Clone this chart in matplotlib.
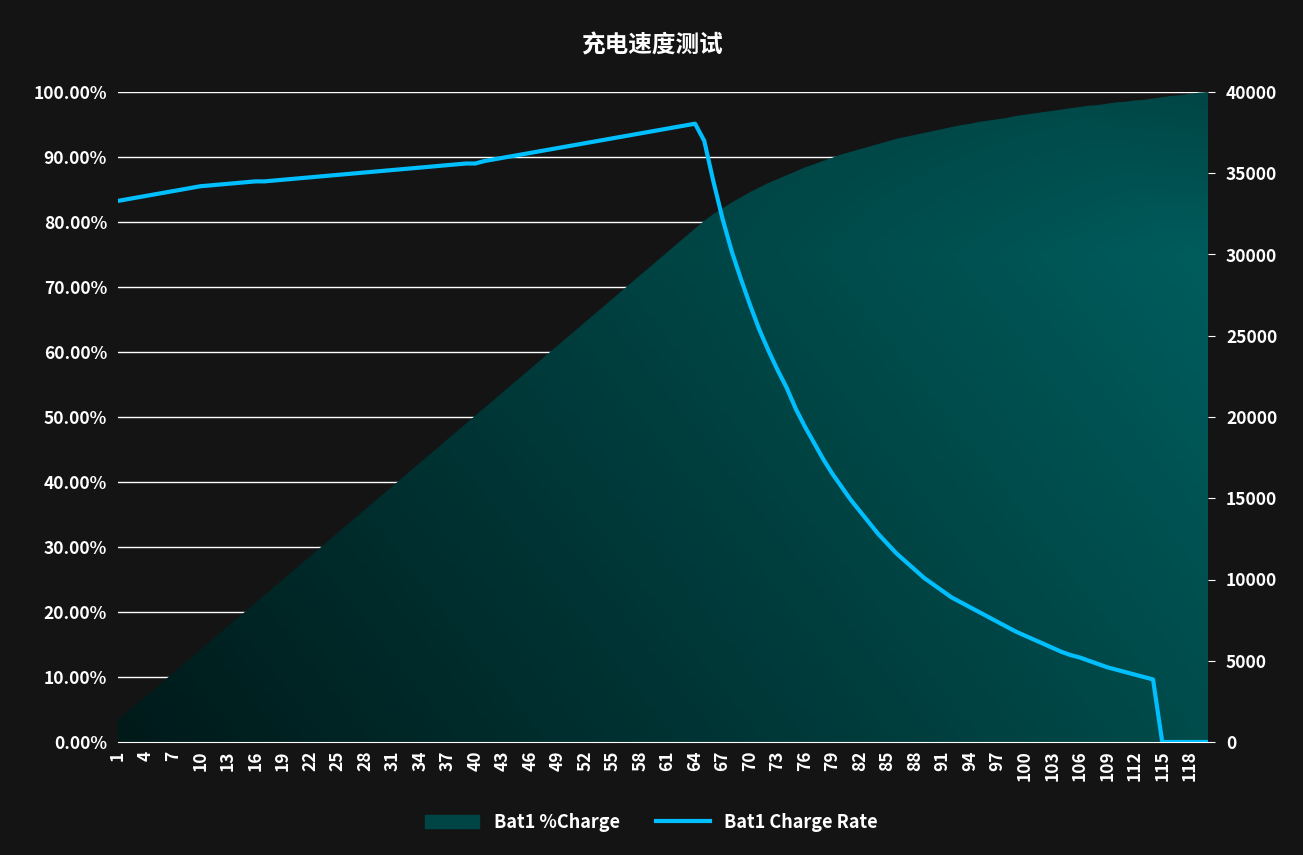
import numpy as np
import matplotlib.pyplot as plt
from matplotlib.patches import Patch
from matplotlib.lines import Line2D
from matplotlib.ticker import FuncFormatter

plt.rcParams['font.family'] = ['Noto Sans CJK SC', 'DejaVu Sans']

minutes = list(range(1, 121))

charge_pct = [
    3.4, 4.6, 5.8, 7.0, 8.2, 9.4, 10.6, 11.8, 13.0, 14.2,
    15.4, 16.6, 17.8, 19.0, 20.2, 21.4, 22.6, 23.8, 25.0, 26.2,
    27.4, 28.6, 29.8, 31.0, 32.2, 33.4, 34.6, 35.8, 37.0, 38.2,
    39.4, 40.6, 41.8, 43.0, 44.2, 45.4, 46.6, 47.8, 49.0, 50.2,
    51.4, 52.6, 53.8, 55.0, 56.2, 57.4, 58.6, 59.8, 61.0, 62.2,
    63.4, 64.6, 65.8, 67.0, 68.2, 69.4, 70.6, 71.8, 73.0, 74.2,
    75.4, 76.6, 77.8, 79.0, 80.2, 81.2, 82.1, 83.0, 83.8, 84.6,
    85.3, 86.0, 86.6, 87.2, 87.8, 88.4, 88.9, 89.4, 89.9, 90.4,
    90.8, 91.2, 91.6, 92.0, 92.4, 92.8, 93.1, 93.4, 93.7, 94.0,
    94.3, 94.6, 94.9, 95.1, 95.4, 95.6, 95.8, 96.0, 96.3, 96.5,
    96.7, 96.9, 97.1, 97.3, 97.5, 97.7, 97.9, 98.0, 98.2, 98.4,
    98.5, 98.7, 98.8, 99.0, 99.2, 99.4, 99.5, 99.7, 99.9, 100.0,
]

charge_rate = [
    33300, 33400, 33500, 33600, 33700, 33800, 33900, 34000, 34100, 34200,
    34250, 34300, 34350, 34400, 34450, 34500, 34500, 34550, 34600, 34650,
    34700, 34750, 34800, 34850, 34900, 34950, 35000, 35050, 35100, 35150,
    35200, 35250, 35300, 35350, 35400, 35450, 35500, 35550, 35600, 35600,
    35750, 35850, 35950, 36050, 36150, 36250, 36350, 36450, 36550, 36650,
    36750, 36850, 36950, 37050, 37150, 37250, 37350, 37450, 37550, 37650,
    37750, 37850, 37950, 38050, 37000, 34500, 32200, 30200, 28500, 26900,
    25400, 24100, 22900, 21800, 20500, 19400, 18400, 17400, 16500, 15700,
    14900, 14200, 13500, 12800, 12200, 11600, 11100, 10600, 10100, 9700,
    9300, 8900, 8600, 8300, 8000, 7700, 7400, 7100, 6800, 6550,
    6300, 6050, 5800, 5550, 5350, 5200, 5000, 4800, 4600, 4450,
    4300, 4150, 4000, 3850, 0, 0, 0, 0, 0, 0,
]

bg = '#141414'
fig = plt.figure(figsize=(13.03, 8.55), dpi=100, facecolor=bg)
ax = fig.add_axes([118 / 1303, 113 / 855, 1090 / 1303, 650 / 855])
ax.set_facecolor(bg)
ax2 = ax.twinx()

# gradient area
poly = ax.fill_between(minutes, charge_pct, 0, color='none', zorder=2)
nx, ny = 300, 200
gx = np.linspace(0, 1, nx)[None, :]
gy = np.linspace(0, 1, ny)[:, None]
t = np.clip(0.75 * gx + 0.35 * gy, 0, 1)
dark = np.array([0.0, 0.10, 0.10])
light = np.array([0.0, 0.36, 0.36])
img = dark + (light - dark) * t[..., None]
top_shade = np.clip((gy - 0.75) / 0.25, 0, 1) * gx * 0.25
img = img * (1 - top_shade[..., None])
im = ax.imshow(img, origin='lower', extent=[1, 120, 0, 100], aspect='auto', zorder=2)
im.set_clip_path(poly.get_paths()[0], transform=ax.transData)

ax2.plot(minutes, charge_rate, color='#00bfff', lw=3, zorder=5)

ax.set_xlim(1, 120)
ax.set_ylim(0, 100)
ax2.set_ylim(0, 40000)
ax.set_yticks(range(0, 101, 10))
ax.yaxis.set_major_formatter(FuncFormatter(lambda v, p: f'{v:.2f}%'))
ax2.set_yticks(range(0, 40001, 5000))
ax.set_xticks(minutes[::3])
ax.set_xticklabels([str(m) for m in minutes[::3]], rotation=90)
ax.grid(axis='y', color='white', lw=1, zorder=1)
ax.set_axisbelow(True)

for a in (ax, ax2):
    for s in a.spines.values():
        s.set_visible(False)
ax.spines['bottom'].set_visible(True)
ax.spines['bottom'].set_color('white')

ax.tick_params(axis='y', length=0, colors='white', labelsize=12.5, pad=8)
ax.tick_params(axis='x', length=0, colors='white', labelsize=12.5, pad=6)
ax2.tick_params(axis='y', length=5, colors='white', labelsize=12.5, pad=8)
for lab in ax.get_xticklabels() + ax.get_yticklabels() + ax2.get_yticklabels():
    lab.set_fontweight('bold')

fig.text(0.5, 1 - 45 / 855, '充电速度测试', color='white', fontsize=17,
         fontweight='bold', ha='center', va='center')

handles = [Patch(color='#004545'), Line2D([], [], color='#00bfff', lw=3)]
leg = fig.legend(handles, ['Bat1 %Charge', 'Bat1 Charge Rate'], loc='center',
                 bbox_to_anchor=(0.5, 1 - 822 / 855), ncol=2, frameon=False,
                 fontsize=13, handlelength=3, columnspacing=2)
for txt in leg.get_texts():
    txt.set_color('white')
    txt.set_fontweight('bold')

fig.savefig('out.png', dpi=100, facecolor=bg)
